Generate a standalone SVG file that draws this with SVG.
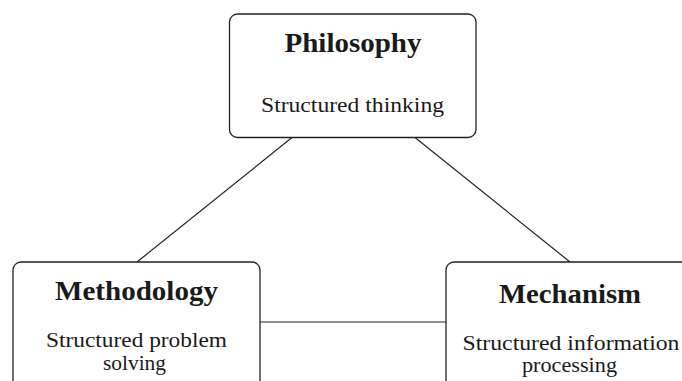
<svg xmlns="http://www.w3.org/2000/svg" width="682" height="381" viewBox="0 0 682 381">
<style>
.box{fill:#fff;stroke:#222;stroke-width:1.3}
.t{font-family:"Liberation Serif","Times New Roman",serif;font-weight:bold;font-size:27px;fill:#1a1a1a;text-anchor:middle}
.s{font-family:"Liberation Serif","Times New Roman",serif;font-size:20px;fill:#1a1a1a;text-anchor:middle}
.c{stroke:#222;stroke-width:1.2;fill:none}
</style>
<rect width="682" height="381" fill="#fff"/>
<g id="connectors">
<line class="c" x1="292" y1="137.5" x2="137" y2="262"/>
<line class="c" x1="415" y1="137.5" x2="570" y2="262"/>
<line class="c" x1="260" y1="322" x2="446" y2="322"/>
</g>
<g id="philosophy">
<rect class="box" x="229.5" y="14" width="246.5" height="123.5" rx="8"/>
<text class="t" x="353" y="52" textLength="137" lengthAdjust="spacingAndGlyphs">Philosophy</text>
<text class="s" x="352.5" y="112" textLength="183" lengthAdjust="spacingAndGlyphs">Structured thinking</text>
</g>
<g id="methodology">
<rect class="box" x="13" y="262" width="247" height="140" rx="8"/>
<text class="t" x="136.5" y="300" textLength="163" lengthAdjust="spacingAndGlyphs">Methodology</text>
<text class="s" x="136.5" y="347" textLength="181" lengthAdjust="spacingAndGlyphs">Structured problem</text>
<text class="s" x="134.5" y="370" textLength="63" lengthAdjust="spacingAndGlyphs">solving</text>
</g>
<g id="mechanism">
<rect class="box" x="446" y="262" width="250" height="140" rx="8"/>
<text class="t" x="570" y="303" textLength="142" lengthAdjust="spacingAndGlyphs">Mechanism</text>
<text class="s" x="571" y="350" textLength="217" lengthAdjust="spacingAndGlyphs">Structured information</text>
<text class="s" x="569.5" y="372" textLength="95" lengthAdjust="spacingAndGlyphs">processing</text>
</g>
</svg>
